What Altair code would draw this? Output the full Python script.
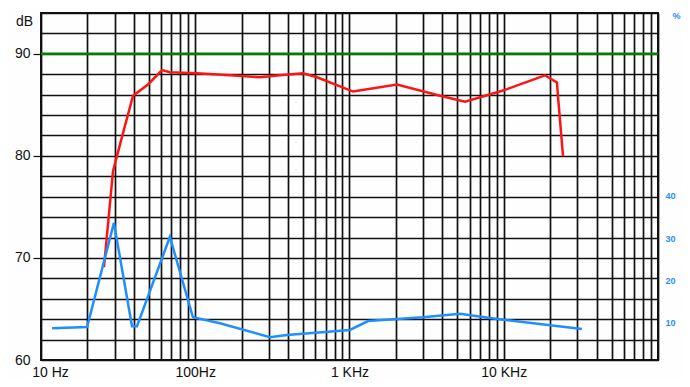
import altair as alt
import pandas as pd

# Frequency response (red, dB, left axis)
red_freq = [25.6, 29.3, 32.5, 39.5, 49.4, 60.9, 68.5, 102.6, 168, 263, 354, 500, 616,
            1054, 2033, 3863, 5613, 9894, 18500, 22130, 22480, 24220]
red_db = [69.1, 78.5, 81.1, 85.9, 87.0, 88.4, 88.2, 88.1, 87.9, 87.7, 87.9, 88.1, 87.7,
          86.3, 87.0, 85.9, 85.3, 86.4, 87.9, 87.2, 85.8, 80.0]

# Distortion (blue, %, right axis)
blue_freq = [11.8, 19.9, 29.7, 38.9, 41.9, 68.5, 96.6, 144.6, 305, 393, 1007, 1318,
             2994, 5200, 8140, 32100]
blue_pct = [8.7, 9.0, 33.6, 9.2, 9.2, 30.3, 11.3, 9.9, 6.6, 7.1, 8.3, 10.4,
            11.3, 12.1, 11.1, 8.5]

# Reference level (green)
ref_db = [90]

# Axis ticks / labels
x_decades = [10, 100, 1000, 10000]
x_grid = [d * m for d in x_decades for m in range(1, 10)] + [100000]
x_labels = {10: "10 Hz", 100: "100Hz", 1000: "1 KHz", 10000: "10 KHz"}
y_grid = list(range(60, 95, 2))
y_label_values = [60, 70, 80, 90]
right_ticks = [10, 20, 30, 40]

red_df = pd.DataFrame({"f": red_freq, "db": red_db})
blue_df = pd.DataFrame({"f": blue_freq, "pct": blue_pct})
ref_df = pd.DataFrame({"db": ref_db})

FONT = "Liberation Sans"
BLUE = "#1e8fff"

label_expr = " : ".join(
    f"datum.value == {k} ? '{v}'" for k, v in x_labels.items()
) + " : ''"
y_label_expr = " || ".join(f"datum.value == {v}" for v in y_label_values)

x_scale = alt.Scale(type="log", domain=[10, 100000], nice=False)
x_axis = alt.Axis(
    values=x_grid, labelExpr=label_expr, grid=True, gridColor="#111111",
    gridWidth=1.7, gridOpacity=1, ticks=False, domain=False, title=None,
    labelFont=FONT, labelFontSize=14, labelColor="#111111", labelPadding=5,
    labelAlign="center", labelFlush=False,
    labelOffset={"condition": {"test": "datum.value == 10", "value": 9}, "value": 0},
)

y_scale = alt.Scale(domain=[60, 94], nice=False, zero=False)
y_axis = alt.Axis(
    values=y_grid,
    labelExpr=f"({y_label_expr}) ? datum.value : ''",
    grid=True, gridColor="#111111", gridWidth=1.7, gridOpacity=1,
    ticks=True, tickSize=8, tickWidth=1.2,
    tickColor={"condition": {"test": "datum.value % 10 == 0 && datum.value > 60", "value": "#111111"},
               "value": "transparent"},
    domain=False, labelFont=FONT, labelFontSize=14, labelColor="#111111",
    labelPadding=3, title="dB", titleAngle=0, titleFont=FONT, titleFontSize=14,
    titleFontWeight="normal", titleColor="#111111", titleX=-17, titleY=8,
    titleAlign="center", titleBaseline="middle",
)

green = alt.Chart(ref_df).mark_rule(color="#008000", strokeWidth=2.5).encode(
    y=alt.Y("db:Q", scale=y_scale, axis=y_axis)
)

red = alt.Chart(red_df).mark_line(color="#ff1414", strokeWidth=2.5).encode(
    x=alt.X("f:Q", scale=x_scale, axis=x_axis),
    y=alt.Y("db:Q", scale=y_scale, axis=y_axis),
)

blue = alt.Chart(blue_df).mark_line(color=BLUE, strokeWidth=2.5).encode(
    x=alt.X("f:Q", scale=x_scale, axis=x_axis),
    y=alt.Y(
        "pct:Q",
        scale=alt.Scale(domain=[1.2, 83.2], nice=False, zero=False),
        axis=alt.Axis(
            orient="right", values=right_ticks, grid=False, ticks=False, domain=False,
            labelFont=FONT, labelFontSize=9, labelFontWeight="bold", labelColor=BLUE,
            labelPadding=7, labelAlign="left", title="%", titleAngle=0,
            titleFont=FONT, titleFontSize=9, titleFontWeight="bold", titleColor=BLUE,
            titleX=18, titleY=2, titleAlign="center", titleBaseline="middle",
        ),
    ),
)

left = alt.layer(green, red)
chart = (
    alt.layer(left, blue)
    .resolve_scale(y="independent")
    .properties(
        width=617, height=347,
        padding={"left": 33, "top": 5, "right": 24, "bottom": 18},
        autosize=alt.AutoSizeParams(type="none"),
        background="#fefefe",
    )
    .configure_view(stroke="#111111", strokeWidth=2)
)

chart.save("out.html", embed_options={"renderer": "svg", "actions": False})
